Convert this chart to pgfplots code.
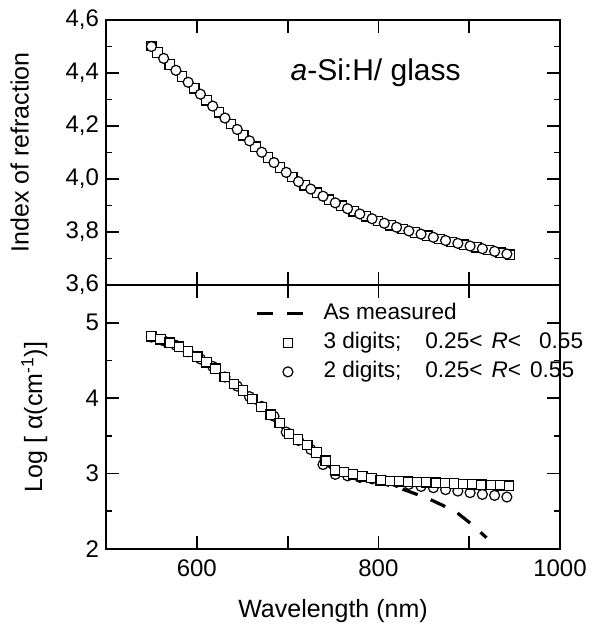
\documentclass[border=0pt]{standalone}
\usepackage{pgfplots}
\pgfplotsset{compat=1.18}
\usepackage{fontspec}
\setmainfont{Liberation Sans}
\begin{document}
\begin{tikzpicture}
\useasboundingbox (-53pt,-43pt) rectangle (246pt,274.5pt);
\pgfplotsset{
  common/.style={
    scale only axis, width=227pt,
    xmin=500, xmax=1000,
    axis line style={line width=1pt},
    every tick/.style={black, line width=0.9pt},
    major tick length=6.5pt, minor tick length=3.2pt,
    tick align=inside,
    xtick pos=both, ytick pos=both,
    xtick={600,800,1000},
    extra x ticks={700,900}, extra x tick labels={},
    /pgf/number format/assume math mode=true,
    tick label style={font=\fontsize{12}{14}\selectfont},
    label style={font=\fontsize{12.5}{15}\selectfont},
  },
  sq/.style={only marks, mark=square*, mark size=2.35pt, mark options={fill=white, draw=black, line width=0.6pt}},
  ci/.style={only marks, mark=*, mark size=2.5pt, mark options={fill=white, draw=black, line width=0.6pt}},
  legend image code/.code={\draw[mark repeat=2,mark phase=2,#1] plot coordinates {(0pt,0pt) (15.5pt,0pt) (26.5pt,0pt)};},
}
% bottom axis
\begin{axis}[common, name=bot, at={(0,0)}, anchor=south west,
  height=132pt, ymin=2, ymax=5.5,
  ytick={2,3,4,5}, minor ytick={2.5,3.5,4.5},
  xticklabels={600,800,1000},
  xticklabel style={yshift=-2pt},
  xlabel={Wavelength (nm)},
  xlabel style={at={(axis description cs:0.5,-0.235)}, anchor=center},
  ylabel={Log [ α(cm\textsuperscript{-1})]},
  ylabel style={at={(axis description cs:-0.158,0.5)}, anchor=center, rotate=0},
  legend style={at={(axis description cs:0.328,0.93)}, anchor=north west, draw=none, fill=none,
    inner sep=0pt, row sep=4.5pt, column sep=6pt,
    nodes={inner sep=0pt, text height=8pt, text depth=2pt},
    font=\fontsize{11.3}{13}\selectfont},
  legend cell align=left,
]
\addplot[black, line width=1.6pt, dash pattern=on 8pt off 7pt, forget plot] coordinates {
(550,4.82) (560,4.78) (570,4.735) (580,4.683) (590,4.618) (600,4.55) (610,4.474)
(620,4.39) (630,4.282) (640,4.19) (650,4.102) (660,3.99) (670,3.885) (680,3.78)
(690,3.67) (700,3.54) (710,3.45) (720,3.38) (730,3.28) (740,3.17) (750,3.05)
(760,3.00) (770,2.97) (780,2.95) (790,2.93) (800,2.895) (810,2.85) (825,2.80)
(840,2.735) (856,2.662) (871,2.578) (888,2.468) (902,2.335) (919,2.15)};
\addplot[ci, forget plot] coordinates {
(550,4.81) (563.5,4.76) (577,4.70) (590.5,4.615) (604,4.52) (617.5,4.42) (631,4.28)
(644.5,4.16) (658,4.02) (671.5,3.89) (685,3.76) (698.5,3.55) (712,3.44) (725.5,3.32)
(739,3.12) (752.5,2.99) (766,2.97) (779.5,2.95) (793,2.93) (806.5,2.91) (820,2.885)
(833.5,2.857) (847,2.83) (860.5,2.813) (874,2.787) (887.5,2.768) (901,2.747)
(914.5,2.724) (928,2.711) (941.5,2.689)};
\addplot[sq, forget plot] coordinates {
(550,4.82) (560.1,4.78) (570.2,4.735) (580.3,4.683) (590.4,4.618) (600.5,4.55)
(610.6,4.474) (620.7,4.39) (630.8,4.282) (640.9,4.19) (651,4.102) (661.1,3.989)
(671.2,3.884) (681.3,3.781) (691.4,3.673) (701.5,3.527) (711.6,3.452) (721.7,3.38)
(731.8,3.28) (741.9,3.17) (752,3.043) (762.1,3.021) (772.2,2.99) (782.3,2.963)
(792.4,2.941) (802.5,2.912) (812.6,2.902) (822.7,2.897) (832.8,2.893) (842.9,2.888)
(853,2.883) (863.1,2.878) (873.2,2.873) (883.3,2.868) (893.4,2.862) (903.5,2.858)
(913.6,2.853) (923.7,2.849) (933.8,2.845) (943.9,2.84)};
\addlegendimage{black, line width=1.6pt, dash pattern=on 8pt off 7pt}
\addlegendentry{As measured}
\addlegendimage{sq}
\addlegendentry{3 digits;\hspace{12pt}0.25<\hspace{4.5pt}\textit{R}<\hspace{9pt}0.55}
\addlegendimage{ci}
\addlegendentry{2 digits;\hspace{12pt}0.25<\hspace{4.5pt}\textit{R}<\hspace{4.5pt}0.55}
\end{axis}
% top axis
\begin{axis}[common, at={(0,132pt)}, anchor=south west,
  height=132.5pt, ymin=3.6, ymax=4.6,
  ytick={3.6,3.8,4.0,4.2,4.4,4.6}, minor ytick={3.7,3.9,4.1,4.3,4.5},
  yticklabels={{3,6},{3,8},{4,0},{4,2},{4,4},{4,6}},
  xticklabels={},
  ylabel={Index of refraction},
  ylabel style={at={(axis description cs:-0.19,0.5)}, anchor=center},
]
\addplot[sq] coordinates {
(550,4.502) (556.75,4.477) (570.25,4.432) (583.75,4.387) (597.25,4.342) (610.75,4.297)
(624.25,4.252) (637.75,4.208) (651.25,4.165) (664.75,4.122) (678.25,4.081) (691.75,4.043)
(705.25,4.007) (718.75,3.976) (732.25,3.948) (745.75,3.922) (759.25,3.899) (772.75,3.878)
(786.25,3.859) (799.75,3.841) (813.25,3.825) (826.75,3.811) (840.25,3.798) (853.75,3.786)
(867.25,3.774) (880.75,3.762) (894.25,3.752) (907.75,3.742) (921.25,3.732) (934.75,3.722)
(945,3.714)};
\addplot[ci] coordinates {
(550,4.500) (563.5,4.455) (577,4.410) (590.5,4.365) (604,4.320) (617.5,4.275)
(631,4.230) (644.5,4.187) (658,4.144) (671.5,4.101) (685,4.062) (698.5,4.025)
(712,3.990) (725.5,3.962) (739,3.935) (752.5,3.910) (766,3.888) (779.5,3.868)
(793,3.850) (806.5,3.833) (820,3.818) (833.5,3.804) (847,3.792) (860.5,3.780)
(874,3.768) (887.5,3.757) (901,3.747) (914.5,3.737) (928,3.727) (941.5,3.717)};
\node[font=\fontsize{15}{17}\selectfont, anchor=center] at (axis cs:797,4.40) {\textit{a}-Si:H/ glass};
\end{axis}
\end{tikzpicture}
\end{document}
